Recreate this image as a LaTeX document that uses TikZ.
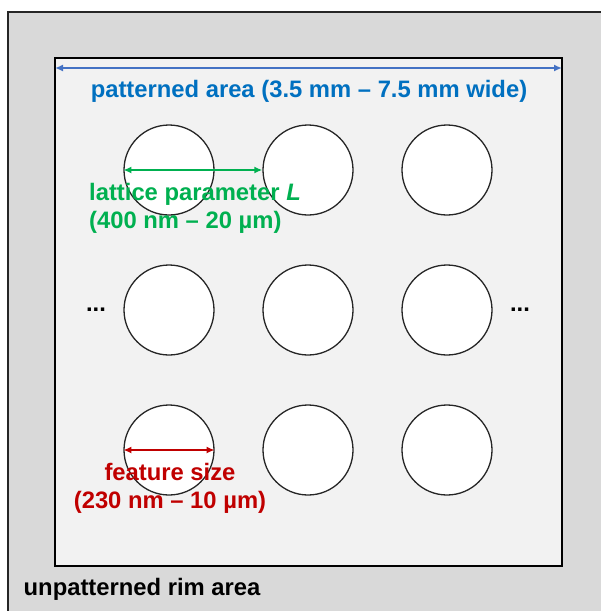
\documentclass[tikz,border=0pt]{standalone}
\usepackage{fontspec}
\setmainfont{Liberation Sans}
\usetikzlibrary{arrows.meta}
\definecolor{rim}{HTML}{D9D9D9}
\definecolor{field}{HTML}{F2F2F2}
\definecolor{dimblue}{HTML}{4472C4}
\definecolor{txtblue}{HTML}{0070C0}
\definecolor{latgreen}{HTML}{00B050}
\definecolor{featred}{HTML}{C00000}
\definecolor{edge}{HTML}{262626}

\begin{document}
\begin{tikzpicture}[x=1pt,y=-1pt,
  hole/.style={circle,draw=edge,line width=1.3pt,fill=white,minimum size=90pt,inner sep=0pt},
  dimline/.style={{Latex[length=8pt,width=7pt]}-{Latex[length=8pt,width=7pt]},line width=2pt},
  lbl/.style={font=\fontsize{23.8}{28.5}\selectfont\bfseries,inner sep=0pt}]
\useasboundingbox (0,0) rectangle (601,611);
\clip (0,0) rectangle (601,611);
\fill[white] (0,0) rectangle (601,611);

% substrate with its unpatterned rim
\draw[fill=rim,draw=edge,line width=2pt] (7.5,11.5) rectangle (660,670);

% patterned field
\node[draw=black,line width=2pt,fill=field,minimum width=507pt,minimum height=508pt,inner sep=0pt]
  (pat) at (308.5,311.5) {};

% lattice of holes
\foreach \r/\y in {1/170,2/310,3/450}
  \foreach \c/\x in {1/169,2/308,3/447}
    \node[hole] (c\r\c) at (\x,\y) {};

% width of the patterned field
\draw[dimline,dimblue] ([xshift=1pt,yshift=-11.5pt]pat.north west) -- ([xshift=-1pt,yshift=-11.5pt]pat.north east);
\node[lbl,text=txtblue,anchor=base] (wlbl) at (309,97) {patterned area (3.5 mm – 7.5 mm wide)};

% lattice parameter (base anchor sits on the last line)
\draw[dimline,latgreen] (c11.west) -- (c12.west);
\node[lbl,text=latgreen,anchor=base west,align=left] (llbl) at (89,228.5)
  {lattice parameter \textit{L}\\(400 nm – 20 µm)};

% feature size
\draw[dimline,featred] (c31.west) -- (c31.east);
\node[lbl,text=featred,anchor=base,align=center] (flbl) at (170,508.5)
  {feature size\\(230 nm – 10 µm)};

% continuation marks
\node[lbl,anchor=base] (dl) at (96,311) {...};
\node[lbl,anchor=base] (dr) at (520,311) {...};

% rim label
\node[lbl,anchor=base west] (rlbl) at (23.5,595) {unpatterned rim area};
\end{tikzpicture}
\end{document}
